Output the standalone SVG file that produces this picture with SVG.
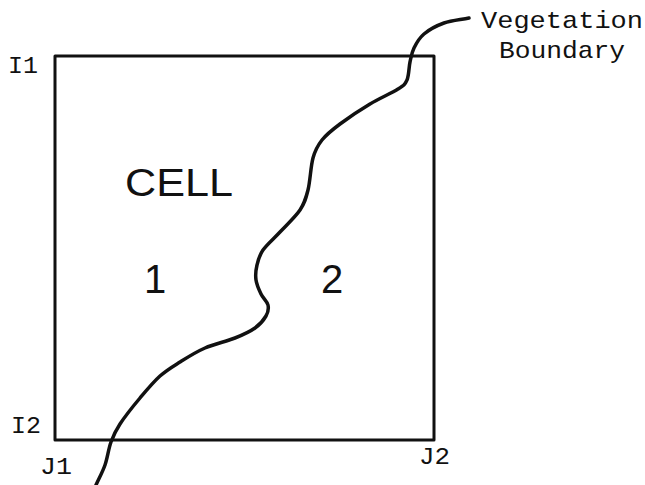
<svg xmlns="http://www.w3.org/2000/svg" width="645" height="485" viewBox="0 0 645 485">
<style>
.mono{font-family:"Liberation Mono","Courier New",monospace;font-size:24px;fill:#111}
.sans{font-family:"Liberation Sans",Arial,sans-serif;fill:#111;font-weight:normal}
.line{fill:none;stroke:#111;stroke-linecap:round;stroke-linejoin:round}
</style>
<rect width="645" height="485" fill="#fff"/>
<g id="cell">
<rect class="line" x="55" y="56" width="379" height="384" stroke-width="3"/>
<text class="sans" x="125" y="196" font-size="38" textLength="108" lengthAdjust="spacingAndGlyphs">CELL</text>
<text class="sans" x="144" y="293" font-size="40">1</text>
<text class="sans" x="321" y="293" font-size="40">2</text>
</g>
<g id="corner-labels">
<text class="mono" x="8" y="73" textLength="30" lengthAdjust="spacingAndGlyphs">I1</text>
<text class="mono" x="11" y="433" textLength="30" lengthAdjust="spacingAndGlyphs">I2</text>
<text class="mono" x="40" y="474" textLength="32" lengthAdjust="spacingAndGlyphs">J1</text>
<text class="mono" x="419" y="464" textLength="31" lengthAdjust="spacingAndGlyphs">J2</text>
</g>
<g id="vegetation-label">
<text class="mono" x="481" y="28" textLength="162" lengthAdjust="spacingAndGlyphs">Vegetation</text>
<text class="mono" x="499" y="58" textLength="126" lengthAdjust="spacingAndGlyphs">Boundary</text>
</g>
<g id="connectors">
<path id="boundary" class="line" stroke-width="3.5" d="M469,18 C460.7,19.7 451.5,20.3 444,23 C436.5,25.7 429,29.8 424,34 C419,38.2 416.3,43.3 414,48 C411.7,52.7 411.2,56.7 410,62 C408.8,67.3 409,75.5 407,80 C405,84.5 404.2,85 398,89 C391.8,93 379.7,98.2 370,104 C360.3,109.8 348,118 340,124 C332,130 326.5,134.3 322,140 C317.5,145.7 315.3,149.7 313,158 C310.7,166.3 310.2,181.3 308,190 C305.8,198.7 304.7,203 300,210 C295.3,217 286.2,225.3 280,232 C273.8,238.7 266.8,244.5 263,250 C259.2,255.5 258.2,260 257,265 C255.8,270 255.3,275.2 256,280 C256.7,284.8 259,289.8 261,294 C263,298.2 267.2,301.3 268,305 C268.8,308.7 268.2,312.2 266,316 C263.8,319.8 260.2,324.3 255,328 C249.8,331.7 243.3,334.7 235,338 C226.7,341.3 214.2,344 205,348 C195.8,352 187.5,357.3 180,362 C172.5,366.7 166.7,370 160,376 C153.3,382 146.7,390 140,398 C133.3,406 124.8,416.7 120,424 C115.2,431.3 113.5,435.2 111,442 C108.5,448.8 107.5,457.8 105,465 C102.5,472.2 99,478.3 96,485"/>
</g>
</svg>
